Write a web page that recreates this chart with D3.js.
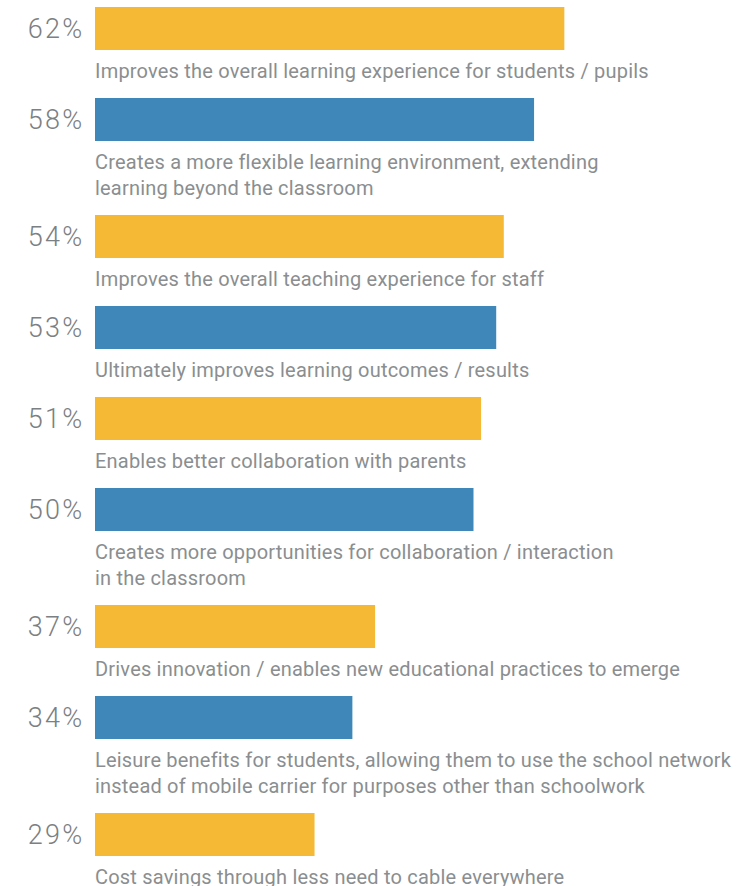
<!DOCTYPE html>
<html>
<head>
<meta charset="utf-8">
<script src="https://cdn.jsdelivr.net/npm/d3@7/dist/d3.min.js"></script>
<style>
  html, body { margin: 0; padding: 0; background: #fff; }
  svg { display: block; }
</style>
</head>
<body>
<svg id="chart" width="746" height="886"></svg>
<script>
// Survey answers, shown top to bottom
const values = [62, 58, 54, 53, 51, 50, 37, 34, 29];
const labels = [
  ["Improves the overall learning experience for students / pupils"],
  ["Creates a more flexible learning environment, extending", "learning beyond the classroom"],
  ["Improves the overall teaching experience for staff"],
  ["Ultimately improves learning outcomes / results"],
  ["Enables better collaboration with parents"],
  ["Creates more opportunities for collaboration / interaction", "in the classroom"],
  ["Drives innovation / enables new educational practices to emerge"],
  ["Leisure benefits for students, allowing them to use the school network", "instead of mobile carrier for purposes other than schoolwork"],
  ["Cost savings through less need to cable everywhere"]
];
const colors = ["#F5B935", "#3E87B8"];

const svg = d3.select("#chart");
const font = "Roboto, 'Noto Sans', sans-serif";

const x = d3.scaleLinear().domain([0, 100]).range([95, 852]);

const barH = 43, rowBase = 91, lineH = 26, top0 = 7;

// stack rows: each extra label line pushes the following rows down
const rows = values.map((v, i) => ({ v, lines: labels[i], i }));
let yCur = top0;
rows.forEach(r => { r.y = yCur; yCur += rowBase + lineH * (r.lines.length - 1); });

const g = svg.selectAll("g.row").data(rows).join("g").attr("class", "row")
  .attr("transform", d => `translate(0,${d.y})`);

g.append("rect")
  .attr("x", x(0))
  .attr("y", 0)
  .attr("width", d => x(d.v) - x(0))
  .attr("height", barH)
  .attr("fill", d => colors[d.i % 2]);

g.append("text")
  .attr("x", 84.5)
  .attr("y", 31)
  .attr("text-anchor", "end")
  .attr("font-family", font)
  .attr("font-weight", 300)
  .attr("font-size", 27)
  .attr("letter-spacing", 2.3)
  .attr("fill", "#7b8082")
  .text(d => d.v + "%");

g.append("text")
  .attr("font-family", font)
  .attr("font-size", 20)
  .attr("letter-spacing", 0.2)
  .attr("fill", "#8a8e90")
  .selectAll("tspan").data(d => d.lines).join("tspan")
  .attr("x", 95)
  .attr("y", (d, j) => 71 + j * lineH)
  .text(d => d);
</script>
</body>
</html>
